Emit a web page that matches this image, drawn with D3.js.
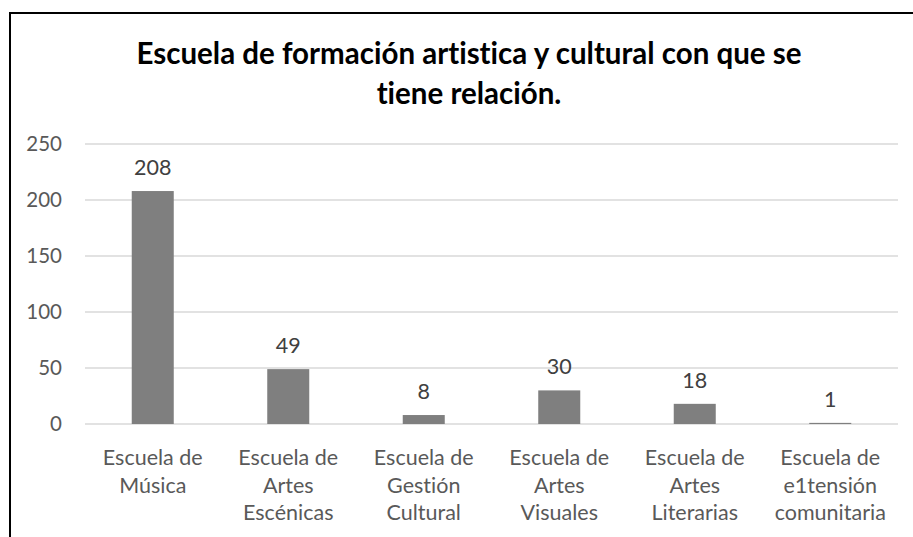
<!DOCTYPE html>
<html>
<head>
<meta charset="utf-8">
<script src="https://cdn.jsdelivr.net/npm/d3@7"></script>
<style>
  body { margin: 0; background: #fff; }
  svg { display: block; font-family: Lato, "Open Sans", sans-serif; font-variant-ligatures: none; }
</style>
</head>
<body>
<div id="chart"></div>
<script>
// Chart data
var categories = [
  ["Escuela de", "Música"],
  ["Escuela de", "Artes", "Escénicas"],
  ["Escuela de", "Gestión", "Cultural"],
  ["Escuela de", "Artes", "Visuales"],
  ["Escuela de", "Artes", "Literarias"],
  ["Escuela de", "e1tensión", "comunitaria"]
];
var values = [208, 49, 8, 30, 18, 1];
var yTicks = [0, 50, 100, 150, 200, 250];
var titleLines = ["Escuela de formación artistica y cultural con que se", "tiene relación."];

function init() {
  var w = 913, h = 537;
  var svg = d3.select("#chart").append("svg").attr("width", w).attr("height", h);

  // outer chart frame (right and bottom edges fall outside the picture)
  svg.append("rect")
    .attr("x", 10).attr("y", 13)
    .attr("width", w + 20).attr("height", h + 20)
    .attr("fill", "#fff").attr("stroke", "#000").attr("stroke-width", 2);

  var left = 85, right = 898, top = 144, bottom = 424;

  var x = d3.scaleBand()
    .domain(d3.range(categories.length))
    .range([left, right])
    .paddingInner(0.69).paddingOuter(0.345);

  var y = d3.scaleLinear().domain([0, 250]).range([bottom, top]);

  // gridlines
  svg.append("g")
    .selectAll("line")
    .data(yTicks)
    .enter()
    .append("line")
    .attr("x1", left).attr("x2", right)
    .attr("y1", (d) => y(d)).attr("y2", (d) => y(d))
    .attr("stroke", "#d9d9d9")
    .attr("stroke-width", 1.5);

  // y axis labels
  svg.append("g")
    .selectAll("text")
    .data(yTicks)
    .enter()
    .append("text")
    .attr("x", 62)
    .attr("y", (d) => y(d) + 7)
    .attr("text-anchor", "end")
    .attr("font-size", 20.5)
    .attr("fill", "#595959")
    .text((d) => d);

  // bars
  svg.append("g")
    .selectAll("rect")
    .data(values)
    .enter()
    .append("rect")
    .attr("x", (d, i) => x(i))
    .attr("width", x.bandwidth())
    .attr("y", (d) => y(d))
    .attr("height", (d) => y(0) - y(d))
    .attr("fill", "#7f7f7f");

  // value labels
  svg.append("g")
    .selectAll("text")
    .data(values)
    .enter()
    .append("text")
    .attr("x", (d, i) => x(i) + x.bandwidth() / 2)
    .attr("y", (d) => y(d) - 16)
    .attr("text-anchor", "middle")
    .attr("font-size", 21.5)
    .attr("fill", "#404040")
    .text((d) => d);

  // category labels (wrapped as in the original)
  var cat = svg.append("g")
    .selectAll("text")
    .data(categories)
    .enter()
    .append("text")
    .attr("text-anchor", "middle")
    .attr("font-size", 21.5)
    .attr("fill", "#595959");
  cat.selectAll("tspan")
    .data((d, i) => d.map((s) => ({ s: s, i: i })))
    .enter()
    .append("tspan")
    .attr("x", (d) => x(d.i) + x.bandwidth() / 2)
    .attr("y", (d, j) => 465 + j * 27.5)
    .text((d) => d.s);

  // title
  svg.append("text")
    .attr("text-anchor", "middle")
    .attr("font-size", 29.5)
    .attr("font-weight", "bold")
    .attr("fill", "#000")
    .selectAll("tspan")
    .data(titleLines)
    .enter()
    .append("tspan")
    .attr("x", 469)
    .attr("y", (d, i) => 64 + i * 40)
    .text((d) => d);
}

window.onload = init;
</script>
</body>
</html>
